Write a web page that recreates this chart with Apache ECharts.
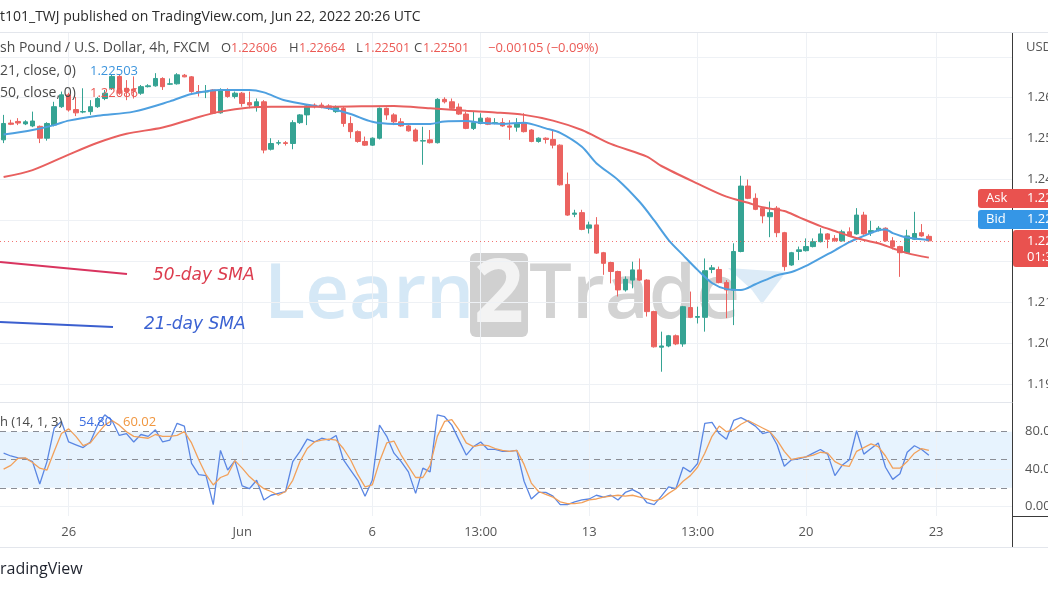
<!DOCTYPE html>
<html><head><meta charset="utf-8">
<script src="https://cdn.jsdelivr.net/npm/echarts@6/dist/echarts.min.js"></script>
<style>html,body{margin:0;padding:0;background:#fff}#c{width:1048px;height:590px}</style>
</head><body><div id="c"></div>
<script>
// ---- data: 4h candles [open, close, low, high] ----
const candles = [
[1.2497,1.2537,1.2489,1.2558],[1.2538,1.2535,1.2533,1.2546],[1.2542,1.2538,1.2533,1.2550],[1.2536,1.2541,1.2533,1.2545],
[1.2531,1.2543,1.2528,1.2566],[1.2530,1.2501,1.2489,1.2532],[1.2501,1.2537,1.2495,1.2540],[1.2533,1.2578,1.2530,1.2590],
[1.2578,1.2607,1.2575,1.2615],[1.2607,1.2570,1.2566,1.2612],[1.2571,1.2563,1.2555,1.2602],[1.2565,1.2566,1.2562,1.2623],
[1.2566,1.2578,1.2558,1.2594],[1.2578,1.2598,1.2575,1.2602],[1.2598,1.2611,1.2594,1.2619],[1.2623,1.2652,1.2619,1.2656],
[1.2652,1.2611,1.2607,1.2656],[1.2623,1.2615,1.2594,1.2643],[1.2621,1.2617,1.2598,1.2652],[1.2611,1.2627,1.2607,1.2631],
[1.2627,1.2629,1.2625,1.2633],[1.2629,1.2647,1.2627,1.2660],[1.2647,1.2627,1.2619,1.2650],[1.2633,1.2634,1.2631,1.2647],
[1.2634,1.2656,1.2632,1.2660],[1.2655,1.2651,1.2650,1.2658],[1.2651,1.2615,1.2612,1.2653],[1.2615,1.2614,1.2603,1.2631],
[1.2614,1.2615,1.2599,1.2631],[1.2619,1.2562,1.2560,1.2621],[1.2563,1.2619,1.2561,1.2623],[1.2619,1.2603,1.2600,1.2623],
[1.2603,1.2611,1.2598,1.2615],[1.2611,1.2586,1.2578,1.2614],[1.2588,1.2582,1.2574,1.2615],[1.2578,1.2590,1.2566,1.2598],
[1.2590,1.2472,1.2464,1.2594],[1.2474,1.2488,1.2471,1.2501],[1.2489,1.2490,1.2484,1.2496],[1.2490,1.2488,1.2483,1.2494],
[1.2488,1.2539,1.2474,1.2545],[1.2539,1.2558,1.2536,1.2560],[1.2558,1.2580,1.2533,1.2582],[1.2582,1.2578,1.2574,1.2586],
[1.2582,1.2580,1.2574,1.2588],[1.2580,1.2574,1.2570,1.2584],[1.2566,1.2578,1.2563,1.2581],[1.2574,1.2537,1.2529,1.2578],
[1.2537,1.2517,1.2501,1.2554],[1.2517,1.2493,1.2490,1.2520],[1.2493,1.2484,1.2482,1.2505],[1.2484,1.2501,1.2482,1.2503],
[1.2501,1.2574,1.2498,1.2576],[1.2574,1.2558,1.2546,1.2576],[1.2558,1.2541,1.2533,1.2562],[1.2541,1.2531,1.2529,1.2550],
[1.2531,1.2519,1.2517,1.2533],[1.2521,1.2494,1.2492,1.2525],[1.2494,1.2495,1.2436,1.2529],[1.2497,1.2490,1.2488,1.2521],
[1.2490,1.2596,1.2488,1.2599],[1.2596,1.2590,1.2586,1.2601],[1.2590,1.2574,1.2572,1.2598],[1.2577,1.2560,1.2558,1.2586],
[1.2560,1.2525,1.2523,1.2566],[1.2525,1.2539,1.2521,1.2566],[1.2537,1.2550,1.2535,1.2562],[1.2550,1.2535,1.2533,1.2552],
[1.2537,1.2539,1.2535,1.2550],[1.2539,1.2531,1.2529,1.2550],[1.2531,1.2528,1.2497,1.2545],[1.2528,1.2537,1.2517,1.2550],
[1.2537,1.2517,1.2515,1.2562],[1.2521,1.2493,1.2491,1.2523],[1.2493,1.2501,1.2490,1.2503],[1.2501,1.2498,1.2488,1.2503],
[1.2498,1.2484,1.2476,1.2521],[1.2484,1.2387,1.2385,1.2486],[1.2388,1.2313,1.2311,1.2417],[1.2315,1.2318,1.2308,1.2326],
[1.2319,1.2278,1.2276,1.2326],[1.2281,1.2289,1.2268,1.2297],[1.2289,1.2220,1.2218,1.2308],[1.2221,1.2195,1.2167,1.2223],
[1.2197,1.2175,1.2146,1.2199],[1.2175,1.2130,1.2114,1.2177],[1.2130,1.2156,1.2126,1.2163],[1.2154,1.2179,1.2134,1.2199],
[1.2179,1.2154,1.2152,1.2207],[1.2154,1.2077,1.2065,1.2156],[1.2077,1.1991,1.1989,1.2079],[1.1990,1.1993,1.1930,1.2028],
[1.1993,1.2018,1.1990,1.2020],[1.2018,1.1998,1.1995,1.2021],[1.1998,1.2089,1.1991,1.2091],[1.2087,1.2063,1.2061,1.2126],
[1.2063,1.2065,1.2048,1.2089],[1.2063,1.2177,1.2028,1.2207],[1.2180,1.2184,1.2171,1.2191],[1.2180,1.2148,1.2146,1.2187],
[1.2148,1.2130,1.2061,1.2154],[1.2130,1.2224,1.2044,1.2244],[1.2224,1.2384,1.2222,1.2409],[1.2384,1.2354,1.2352,1.2400],
[1.2354,1.2327,1.2325,1.2366],[1.2330,1.2311,1.2293,1.2332],[1.2309,1.2319,1.2259,1.2346],[1.2330,1.2270,1.2259,1.2335],
[1.2270,1.2187,1.2177,1.2272],[1.2191,1.2221,1.2189,1.2223],[1.2224,1.2228,1.2203,1.2236],[1.2226,1.2236,1.2224,1.2256],
[1.2236,1.2248,1.2234,1.2256],[1.2248,1.2267,1.2246,1.2281],[1.2267,1.2254,1.2232,1.2269],[1.2256,1.2250,1.2248,1.2264],
[1.2250,1.2272,1.2248,1.2277],[1.2272,1.2262,1.2260,1.2283],[1.2267,1.2313,1.2265,1.2330],[1.2313,1.2267,1.2265,1.2321],
[1.2270,1.2275,1.2262,1.2299],[1.2275,1.2281,1.2273,1.2286],[1.2281,1.2250,1.2248,1.2283],[1.2250,1.2236,1.2229,1.2259],
[1.2236,1.2221,1.2162,1.2238],[1.2221,1.2262,1.2219,1.2277],[1.2254,1.2268,1.2252,1.2321],[1.2270,1.2262,1.2260,1.2291],
[1.2261,1.2250,1.2250,1.2266]
];
// SMA lines: [candle index, value]
const sma21 = [[0,1.2510],[4,1.2521],[7,1.2533],[9,1.2544],[13,1.2556],[18,1.2566],[23,1.2591],[26,1.2609],[30,1.2619],[34,1.2619],[36,1.2613],[39,1.2593],[43,1.2580],[45,1.2574],[48,1.2560],[51,1.2541],[54,1.2536],[59,1.2536],[61,1.2542],[64,1.2543],[66,1.2539],[69,1.2536],[72,1.2539],[75,1.2525],[77,1.2514],[80,1.2480],[82,1.2440],[85,1.2399],[88,1.2345],[90,1.2300],[92,1.2252],[94,1.2215],[96,1.2179],[98,1.2147],[100,1.2132],[102,1.2130],[104,1.2144],[106,1.2159],[107,1.2166],[109,1.2174],[111,1.2189],[113,1.2208],[115,1.2227],[117,1.2247],[119,1.2262],[121,1.2276],[122,1.2278],[123,1.2269],[125,1.2258],[128,1.2252]];
const sma50 = [[0,1.2406],[4,1.2423],[9,1.2461],[13,1.2490],[17,1.2512],[22,1.2527],[27,1.2553],[30,1.2566],[34,1.2576],[37,1.2578],[45,1.2578],[54,1.2580],[59,1.2574],[64,1.2568],[68,1.2564],[72,1.2558],[76,1.2544],[80,1.2521],[84,1.2487],[89,1.2456],[91,1.2433],[96,1.2390],[100,1.2358],[103,1.2343],[105,1.2332],[108,1.2323],[110,1.2308],[113,1.2286],[115,1.2274],[117,1.2262],[119,1.2252],[121,1.2244],[123,1.2232],[125,1.2220],[128,1.2209]];
// Stochastic (14,1,3)
const stochK = [57,54,52,51.5,48,24,48,84,91,69,66,63,69,87,98,92,76,78,69,77,75,82,69,71,89,86,46,34,33,2,60,39,49,22,19,28,7,12,14,16,48,59,72,69,73,71,76,50,39,28,11,28,87,75,57,48,37,14,41,37,98,96,87,71,55,64,69,61,61,59,59,60,27,8,15,15,11,2,2,5,7,8,12,10,12,7,15,18,14,4,2,11,21,19,42,37,46,89,90,78,72,92,95,91,86,78,80,66,43,50,51,53,57,61,56,33,44,50,81,56,62,68,42,29,35,58,65,61,54.8];
const stochD = [40,44,51.5,52,47,41,39,59,78,83,75,65,68,78,87,92,87,80,75,74,73,77,75,75,76,80,68,50,34,23,31,34,49,41,32,25,19,16,12,16,28,48,62,69,71,72,71,62,50,34,21,23,48,68,70,55,43,31,31,44,75,91,93,82,68,64,66,65,62,60,59,60,45,25,16,13,10,5,3,3,4,7,8,10,11,12,11,12,10,8,6,8,14,19,27,33,42,57,75,86,80,82,88,92,88,84,80,71,59,50,52,53,55,58,57,48,44,43,59,63,67,64,54,41,41,48,57,62,60.02];
// axis ticks
const priceTicks = [1.19,1.20,1.21,1.22,1.23,1.24,1.25,1.26];
const priceGridLines = [1.19,1.20,1.21,1.22,1.23,1.24,1.25,1.26,1.27];
const stochTicks = [0,40,80];
const stochLevels = [20,50,80];
const xTickIndex = [9,33,51,66,81,96,111,129];
const xTickText = ['26','Jun','6','13:00','13','13:00','20','23'];
const slotCount = 140;

// time categories (4h bars, weekdays)
const categories = [];
(function(){
  let t = Date.UTC(2022,4,24,12);
  while (categories.length < slotCount) {
    const d = new Date(t); const wd = d.getUTCDay();
    if (wd !== 0 && wd !== 6) {
      const p = n => String(n).padStart(2,'0');
      categories.push(`2022-${p(d.getUTCMonth()+1)}-${p(d.getUTCDate())} ${p(d.getUTCHours())}:00`);
    }
    t += 4*3600e3;
  }
})();

const UP = '#35a393', DOWN = '#eb6360';
const FONT = '"Open Sans", "Noto Sans", sans-serif';
const lastClose = candles[candles.length-1][1];
const xLabelMap = {}; xTickIndex.forEach((i,k)=>xLabelMap[i]=xTickText[k]);

const gridLineStyle = {color:'#eef1f5', width:1, type:'solid'};
const vLines = xTickIndex.map(i => ({xAxis: categories[i]}));

const chart = echarts.init(document.getElementById('c'), null, {renderer:'canvas'});
chart.setOption({
  animation: false,
  backgroundColor: '#ffffff',
  grid: [
    {left:0, top:33, width:1012, height:369, containLabel:false, outerBoundsMode:'none'},
    {left:0, top:403, width:1012, height:113, containLabel:false, outerBoundsMode:'none'}
  ],
  xAxis: [
    {type:'category', gridIndex:0, data:categories, boundaryGap:true,
     axisLine:{show:false}, axisTick:{show:false}, axisLabel:{show:false}, splitLine:{show:false}},
    {type:'category', gridIndex:1, data:categories, boundaryGap:true,
     axisLine:{show:true, lineStyle:{color:'#3a3a3a', width:1}}, axisTick:{show:false},
     axisLabel:{show:true, interval:(i)=>xLabelMap[i]!==undefined, formatter:(v,i)=>xLabelMap[i]||'',
       color:'#555', fontSize:13, fontFamily:FONT, margin:10, hideOverlap:false},
     splitLine:{show:false}}
  ],
  yAxis: [
    {type:'value', gridIndex:0, position:'right', min:1.18560, max:1.27582,
     axisLine:{show:true, lineStyle:{color:'#3a3a3a'}}, axisTick:{show:false},
     axisLabel:{customValues:priceTicks, formatter:v=>v.toFixed(5), color:'#555', fontSize:13, fontFamily:FONT, margin:15},
     splitLine:{show:false}},
    {type:'value', gridIndex:1, position:'right', min:-10.2, max:110.7,
     axisLine:{show:true, lineStyle:{color:'#3a3a3a'}}, axisTick:{show:false},
     axisLabel:{customValues:stochTicks, formatter:v=>v.toFixed(2), color:'#555', fontSize:13, fontFamily:FONT, margin:13},
     splitLine:{show:false}}
  ],
  series: [
    {type:'candlestick', name:'GBPUSD', xAxisIndex:0, yAxisIndex:0, data:candles, barWidth:5, z:2,
     itemStyle:{color:UP, color0:DOWN, borderColor:UP, borderColor0:DOWN, borderWidth:1},
     markLine:{silent:true, symbol:['none','none'], z:1, precision:5, label:{show:false}, lineStyle:gridLineStyle,
       emphasis:{disabled:true},
       data: priceGridLines.map(v=>({yAxis:v})).concat(vLines)}
    },
    {type:'line', name:'SMA21', xAxisIndex:0, yAxisIndex:0, data:sma21, showSymbol:false, smooth:0.3, z:3,
     lineStyle:{color:'#4ea0e0', width:2},
     markLine:{silent:true, symbol:['none','none'], z:4, precision:5, label:{show:false},
       lineStyle:{color:'#ef5350', width:1, type:[1,3], opacity:0.8}, emphasis:{disabled:true},
       data:[{yAxis:lastClose}]}},
    {type:'line', name:'SMA50', xAxisIndex:0, yAxisIndex:0, data:sma50, showSymbol:false, smooth:0.3, z:3,
     lineStyle:{color:'#e8605f', width:2}},
    {type:'line', name:'%K', xAxisIndex:1, yAxisIndex:1, data:stochK, showSymbol:false, z:3,
     lineStyle:{color:'#5a86e3', width:1.3},
     markArea:{silent:true, z:1, itemStyle:{color:'rgba(33,150,243,0.11)'}, data:[[{yAxis:20},{yAxis:80}]]},
     markLine:{silent:true, symbol:['none','none'], z:2, label:{show:false},
       lineStyle:{color:'#8a8d95', width:1, type:[6,5]}, emphasis:{disabled:true},
       data: stochLevels.map(v=>({yAxis:v}))}},
    {type:'line', name:'%D', xAxisIndex:1, yAxisIndex:1, data:stochD, showSymbol:false, z:3,
     lineStyle:{color:'#f2a05a', width:1.3},
     markLine:{silent:true, symbol:['none','none'], z:1, label:{show:false}, lineStyle:gridLineStyle,
       emphasis:{disabled:true},
       data: stochTicks.filter(v=>v!==80).map(v=>({yAxis:v})).concat(vLines)}}
  ],
  graphic: [
    // watermark
    {type:'text', z:0, x:264, y:296, style:{text:'Learn', font:'600 76px "Open Sans"', fill:'#d5e8f6', textVerticalAlign:'middle'}},
    {type:'rect', z:0, shape:{x:470, y:253, width:58, height:84, r:6}, style:{fill:'#d0d0d0'}},
    {type:'text', z:0, x:499, y:297, style:{text:'2', font:'bold 88px "Open Sans"', fill:'#f3f3f3', textAlign:'center', textVerticalAlign:'middle'}},
    {type:'text', z:0, x:529, y:296, style:{text:'Trade', font:'600 76px "Open Sans"', fill:'#d3d3d3', textVerticalAlign:'middle'}},
    {type:'polygon', z:0, shape:{points:[[728,268],[786,272],[762,304],[752,290]]}, style:{fill:'#dcebf7'}},
    // header
    {type:'line', z:10, shape:{x1:0,y1:32.5,x2:1048,y2:32.5}, style:{stroke:'#e3e6ec', lineWidth:1}},
    {type:'text', z:10, x:0, y:17, style:{text:'t101_TWJ published on TradingView.com, Jun 22, 2022 20:26 UTC', font:'14px '+FONT, fill:'#2a2a2a', textVerticalAlign:'middle'}},
    {type:'text', z:10, x:0, y:48, style:{text:'sh Pound / U.S. Dollar, 4h, FXCM', font:'14px '+FONT, fill:'#4a4a4a', textVerticalAlign:'middle'}},
    {type:'text', z:10, x:221, y:48, style:{text:'O', font:'13px '+FONT, fill:'#4a4a4a', textVerticalAlign:'middle'}},
    {type:'text', z:10, x:231, y:48, style:{text:'1.22606', font:'12.5px '+FONT, fill:'#eb5a55', textVerticalAlign:'middle'}},
    {type:'text', z:10, x:289, y:48, style:{text:'H', font:'13px '+FONT, fill:'#4a4a4a', textVerticalAlign:'middle'}},
    {type:'text', z:10, x:299, y:48, style:{text:'1.22664', font:'12.5px '+FONT, fill:'#eb5a55', textVerticalAlign:'middle'}},
    {type:'text', z:10, x:356, y:48, style:{text:'L', font:'13px '+FONT, fill:'#4a4a4a', textVerticalAlign:'middle'}},
    {type:'text', z:10, x:364, y:48, style:{text:'1.22501', font:'12.5px '+FONT, fill:'#eb5a55', textVerticalAlign:'middle'}},
    {type:'text', z:10, x:414, y:48, style:{text:'C', font:'13px '+FONT, fill:'#4a4a4a', textVerticalAlign:'middle'}},
    {type:'text', z:10, x:423, y:48, style:{text:'1.22501', font:'12.5px '+FONT, fill:'#eb5a55', textVerticalAlign:'middle'}},
    {type:'text', z:10, x:488, y:48, style:{text:'−0.00105 (−0.09%)', font:'13px '+FONT, fill:'#eb5a55', textVerticalAlign:'middle'}},
    {type:'text', z:10, x:0, y:71, style:{text:'21, close, 0)', font:'14px '+FONT, fill:'#4a4a4a', textVerticalAlign:'middle'}},
    {type:'text', z:10, x:90, y:71, style:{text:'1.22503', font:'13px '+FONT, fill:'#3d95dd', textVerticalAlign:'middle'}},
    {type:'text', z:10, x:0, y:93, style:{text:'50, close, 0)', font:'14px '+FONT, fill:'#4a4a4a', textVerticalAlign:'middle'}},
    {type:'text', z:10, x:90, y:93, style:{text:'1.22086', font:'13px '+FONT, fill:'#eb5a55', textVerticalAlign:'middle'}},
    {type:'text', z:10, x:1026, y:47, style:{text:'USD', font:'13px '+FONT, fill:'#555', textVerticalAlign:'middle'}},
    // stoch legend
    {type:'text', z:10, x:0, y:422, style:{text:'h (14, 1, 3)', font:'13px '+FONT, fill:'#4a4a4a', textVerticalAlign:'middle'}},
    {type:'text', z:10, x:79, y:422, style:{text:'54.80', font:'13px '+FONT, fill:'#3d6ee0', textVerticalAlign:'middle'}},
    {type:'text', z:10, x:123, y:422, style:{text:'60.02', font:'13px '+FONT, fill:'#f0963f', textVerticalAlign:'middle'}},
    // pane separator & axes
    {type:'line', z:10, shape:{x1:0,y1:402.5,x2:1012,y2:402.5}, style:{stroke:'#e3e6ec', lineWidth:1}},
    {type:'line', z:10, shape:{x1:1012.5,y1:516,x2:1012.5,y2:547}, style:{stroke:'#3a3a3a', lineWidth:1}},
    {type:'line', z:10, shape:{x1:1012,y1:516.5,x2:1048,y2:516.5}, style:{stroke:'#3a3a3a', lineWidth:1}},
    {type:'line', z:10, shape:{x1:0,y1:547.5,x2:1048,y2:547.5}, style:{stroke:'#e3e6ec', lineWidth:1}},
    {type:'text', z:10, x:0, y:569, style:{text:'radingView', font:'500 16px '+FONT, fill:'#1e222d', textVerticalAlign:'middle'}},
    // annotations
    {type:'line', z:10, shape:{x1:0,y1:262,x2:127,y2:274}, style:{stroke:'#d9345f', lineWidth:2}},
    {type:'text', z:10, x:153, y:276, style:{text:'50-day SMA', font:'italic 17px "DejaVu Sans"', fill:'#dc3c4e', textVerticalAlign:'middle'}},
    {type:'line', z:10, shape:{x1:0,y1:322,x2:113,y2:327}, style:{stroke:'#3b5fcf', lineWidth:2}},
    {type:'text', z:10, x:144, y:325, style:{text:'21-day SMA', font:'italic 17px "DejaVu Sans"', fill:'#3b62d2', textVerticalAlign:'middle'}},
    // price scale badges
    {type:'rect', z:20, shape:{x:978, y:189, width:70, height:19, r:[3,0,0,3]}, style:{fill:'#e9524f'}},
    {type:'text', z:21, x:986, y:198.5, style:{text:'Ask', font:'13px '+FONT, fill:'#ffffff', textVerticalAlign:'middle'}},
    {type:'text', z:21, x:1027, y:198.5, style:{text:'1.22518', font:'13px '+FONT, fill:'#ffffff', textVerticalAlign:'middle'}},
    {type:'rect', z:20, shape:{x:978, y:210, width:70, height:19, r:[3,0,0,3]}, style:{fill:'#3596e6'}},
    {type:'text', z:21, x:986, y:219.5, style:{text:'Bid', font:'13px '+FONT, fill:'#ffffff', textVerticalAlign:'middle'}},
    {type:'text', z:21, x:1027, y:219.5, style:{text:'1.22501', font:'13px '+FONT, fill:'#ffffff', textVerticalAlign:'middle'}},
    {type:'rect', z:20, shape:{x:1013, y:230, width:35, height:37, r:[3,0,0,3]}, style:{fill:'#e9524f'}},
    {type:'text', z:21, x:1027, y:241, style:{text:'1.22501', font:'13px '+FONT, fill:'#ffffff', textVerticalAlign:'middle'}},
    {type:'text', z:21, x:1027, y:257, style:{text:'01:33:40', font:'13px '+FONT, fill:'#ffffff', textVerticalAlign:'middle'}}
  ]
});
</script></body></html>
